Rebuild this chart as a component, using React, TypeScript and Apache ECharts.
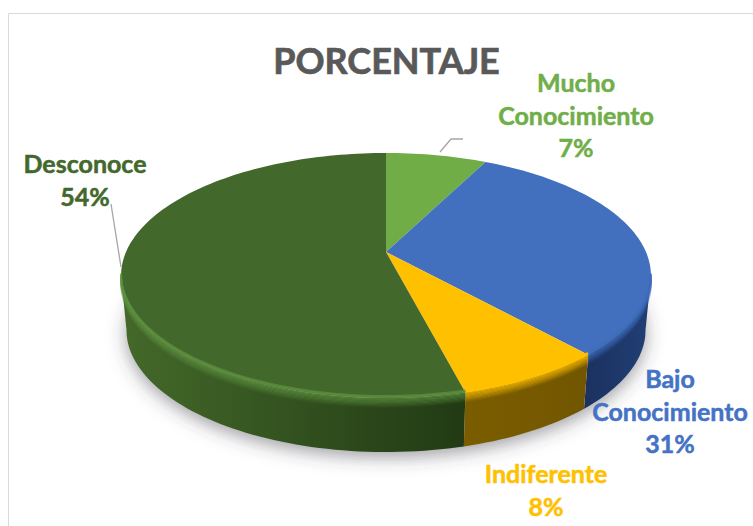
import React, { useEffect, useRef } from "react";
import * as echarts from "echarts";

const chartTitle = "PORCENTAJE";
const categories = ["Mucho\nConocimiento", "Bajo\nConocimiento", "Indiferente", "Desconoce"];
const shares = [7.4, 31.0, 7.6, 54.0];

const faceColors = ["#70ad47", "#4270bf", "#ffc000", "#43682b"];
const labelColors = ["#6fae48", "#4472c4", "#ffc000", "#43682b"];
const bevelColors = ["#70ad47", "#3f6dbb", "#ffc000", "#5f9242"];
const wallStops = [
  ["#3f6b2a", "#3f6b2a"],
  ["#1b3160", "#213f74"],
  ["#7b5d00", "#725600"],
  ["#44692a", "#213a14"],
];
const labelCenters = [
  [576, 82],
  [670, 378],
  [546, 473],
  [85, 163],
];

const CX = 386;
const CY = 252;
const RX = 260;
const RY = 118;
const K = 0.192;
const DEPTH = 54;
const BOTTOM_SCALE = 0.98;
const total = shares.reduce((a, b) => a + b, 0);
const WALL_FROM = (101 * Math.PI) / 180;
const WALL_TO = (259 * Math.PI) / 180;

function rim(theta: number, dy = 0, sx = 1): number[] {
  const u = Math.sin(theta);
  const v = Math.cos(theta);
  const w = 1 + K * v;
  return [CX + (RX * sx * u) / w, CY - (RY * v) / w + dy];
}

function arc(a: number, b: number, dy = 0, sx = 1): number[][] {
  const n = Math.max(2, Math.ceil(((b - a) / Math.PI) * 120));
  const out: number[][] = [];
  for (let i = 0; i <= n; i++) out.push(rim(a + ((b - a) * i) / n, dy, sx));
  return out;
}

function sliceAngles(index: number): number[] {
  let before = 0;
  for (let i = 0; i < index; i++) before += shares[i];
  const a = (before / total) * Math.PI * 2;
  const b = ((before + shares[index]) / total) * Math.PI * 2;
  return [a, b];
}

function frontRange(index: number): number[] | null {
  const [a, b] = sliceAngles(index);
  const s = Math.max(a, WALL_FROM);
  const e = Math.min(b, WALL_TO);
  return e > s ? [s, e] : null;
}

const layers: Record<string, (i: number) => any> = {
  ground: (i) =>
    i !== 0
      ? { type: "group", children: [] }
      : {
          type: "polygon",
          shape: { points: arc(0, Math.PI * 2, DEPTH - 3, BOTTOM_SCALE) },
          style: { fill: "#ffffff", shadowBlur: 18, shadowOffsetY: 8, shadowColor: "rgba(60,60,70,0.5)" },
        },
  wall: (i) => {
    const r = frontRange(i);
    if (!r) return { type: "group", children: [] };
    const pts = [...arc(r[0], r[1], 0), ...arc(r[0], r[1], DEPTH, BOTTOM_SCALE).reverse()];
    return {
      type: "polygon",
      shape: { points: pts },
      style: {
        fill: {
          type: "linear",
          x: 0,
          y: 0,
          x2: 1,
          y2: 0,
          colorStops: [
            { offset: 0, color: wallStops[i][0] },
            { offset: 1, color: wallStops[i][1] },
          ],
        },
      },
    };
  },
  top: (i) => {
    const [a, b] = sliceAngles(i);
    return {
      type: "polygon",
      shape: { points: [[CX, CY], ...arc(a, b)] },
      style: { fill: faceColors[i] },
    };
  },
  bevel: (i) => {
    const r = frontRange(i);
    if (!r) return { type: "group", children: [] };
    const steps = 10;
    const children: any[] = [];
    for (let k = 0; k < steps; k++) {
      children.push({
        type: "polyline",
        shape: { points: arc(r[0], r[1], k * 1.2 - 2) },
        style: { fill: "none", stroke: bevelColors[i], lineWidth: 2, opacity: (1 - k / steps) * 0.7 },
      });
    }
    return { type: "group", children };
  },
  label: (i) => ({
    type: "text",
    x: labelCenters[i][0],
    y: labelCenters[i][1] - 16,
    style: {
      text: `${categories[i]}\n${Math.round(shares[i])}%`,
      fill: labelColors[i],
      stroke: labelColors[i],
      lineWidth: 0.5,
      font: "bold 25px Lato, sans-serif",
      align: "center",
      verticalAlign: "top",
      lineHeight: 32.5,
    },
  }),
};

function makeSeries(name: string, z: number) {
  return {
    type: "custom",
    name,
    coordinateSystem: "none",
    z,
    silent: true,
    data: shares.map((v, i) => ({ name: categories[i], value: [v, i] })),
    renderItem: (_p: any, api: any) => layers[name](api.value(1)),
  };
}

export default function App() {
  const ref = useRef<HTMLDivElement>(null);
  useEffect(() => {
    document.body.style.margin = "0";
    const chart = echarts.init(ref.current!, null, { renderer: "svg" });
    chart.setOption({
      animation: false,
      backgroundColor: "#ffffff",
      graphic: [
        { type: "line", z: 0, shape: { x1: 8.5, y1: 13.5, x2: 753, y2: 13.5 }, style: { stroke: "#d9d9d9", lineWidth: 1 } },
        { type: "line", z: 0, shape: { x1: 8.5, y1: 13.5, x2: 8.5, y2: 526 }, style: { stroke: "#d9d9d9", lineWidth: 1 } },
        { type: "polyline", z: 5, shape: { points: [[440, 152], [451, 139], [463, 139]] }, style: { fill: "none", stroke: "#a6a6a6", lineWidth: 1.3 } },
        { type: "line", z: 5, shape: { x1: 111, y1: 204, x2: 121, y2: 267 }, style: { stroke: "#a6a6a6", lineWidth: 1.3 } },
        {
          type: "text",
          z: 6,
          x: 386.5,
          y: 60,
          style: {
            text: chartTitle,
            fill: "#595959",
            stroke: "#595959",
            lineWidth: 0.7,
            font: "bold 36px Lato, sans-serif",
            align: "center",
            verticalAlign: "middle",
          },
        },
      ],
      series: [
        makeSeries("ground", 1),
        makeSeries("wall", 2),
        makeSeries("top", 3),
        makeSeries("bevel", 4),
        makeSeries("label", 6),
      ],
    });
    return () => chart.dispose();
  }, []);
  return <div ref={ref} style={{ position: "fixed", left: 0, top: 0, width: 753, height: 526 }} />;
}
